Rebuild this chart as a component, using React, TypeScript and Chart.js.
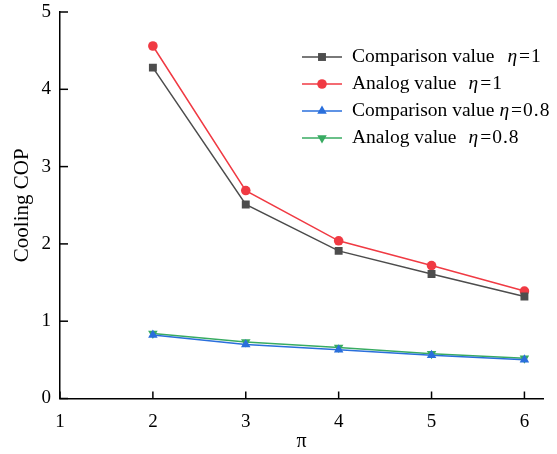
import React, { useEffect, useRef } from "react";
import { Chart, registerables } from "chart.js";

Chart.register(...registerables);

const piValues = [2, 3, 4, 5, 6];
const comparisonEta1 = [4.28, 2.51, 1.91, 1.61, 1.32];
const analogEta1 = [4.56, 2.69, 2.04, 1.72, 1.39];
const comparisonEta08 = [0.82, 0.70, 0.63, 0.56, 0.50];
const analogEta08 = [0.84, 0.73, 0.66, 0.58, 0.52];
const xTicks = [1, 2, 3, 4, 5, 6];
const yTicks = [0, 1, 2, 3, 4, 5];

const legendLabels: [string, string, string][] = [
  ["Comparison value", "η", "=1"],
  ["Analog value", "η", "=1"],
  ["Comparison value", "η", "=0.8"],
  ["Analog value", "η", "=0.8"],
];

const SERIF = "'Liberation Serif', 'Times New Roman', serif";

const innerTicks = {
  id: "innerTicks",
  afterDatasetsDraw(chart: any) {
    const { ctx, chartArea, scales } = chart;
    ctx.save();
    ctx.strokeStyle = "#000";
    ctx.lineWidth = 1.5;
    for (const v of yTicks) {
      const y = scales.y.getPixelForValue(v);
      ctx.beginPath();
      ctx.moveTo(chartArea.left, y);
      ctx.lineTo(chartArea.left + 8, y);
      ctx.stroke();
    }
    for (const v of xTicks) {
      const x = scales.x.getPixelForValue(v);
      ctx.beginPath();
      ctx.moveTo(x, chartArea.bottom);
      ctx.lineTo(x, chartArea.bottom - 7);
      ctx.stroke();
    }
    ctx.restore();
  },
};

const customLegend = {
  id: "customLegend",
  afterDraw(chart: any) {
    const { ctx } = chart;
    const x0 = 302;
    const x1 = 342;
    const tx = 352;
    const y0 = 57;
    const dy = 27;
    const gaps = [13, 12, 5, 12];
    ctx.save();
    chart.data.datasets.forEach((ds: any, i: number) => {
      const y = y0 + i * dy;
      ctx.strokeStyle = ds.borderColor;
      ctx.lineWidth = 1.5;
      ctx.beginPath();
      ctx.moveTo(x0, y);
      ctx.lineTo(x1, y);
      ctx.stroke();
      ctx.fillStyle = ds.backgroundColor;
      const r = ds.pointRadius;
      const cx = (x0 + x1) / 2;
      ctx.beginPath();
      if (ds.pointStyle === "rect") {
        const s = Math.SQRT1_2 * r;
        ctx.rect(cx - s, y - s, 2 * s, 2 * s);
      } else if (ds.pointStyle === "circle") {
        ctx.arc(cx, y, r, 0, Math.PI * 2);
      } else {
        const flip = ds.pointRotation === 180 ? -1 : 1;
        const h = r * 1.5;
        const w = r * Math.sqrt(3);
        ctx.moveTo(cx, y - flip * r);
        ctx.lineTo(cx - w / 2, y + flip * (h - r));
        ctx.lineTo(cx + w / 2, y + flip * (h - r));
        ctx.closePath();
      }
      ctx.fill();
      const [a, b, c] = legendLabels[i];
      ctx.fillStyle = "#000";
      ctx.textBaseline = "middle";
      ctx.textAlign = "left";
      let x = tx;
      ctx.font = `19.5px ${SERIF}`;
      ctx.fillText(a, x, y);
      x += ctx.measureText(a).width + gaps[i];
      ctx.font = `italic 19.5px ${SERIF}`;
      ctx.fillText(b, x, y);
      x += ctx.measureText(b).width + 2;
      ctx.font = `19.5px ${SERIF}`;
      (ctx as any).letterSpacing = "1px";
      ctx.fillText(c, x, y);
      (ctx as any).letterSpacing = "0px";
    });
    ctx.restore();
  },
};

export default function App() {
  const ref = useRef<HTMLCanvasElement>(null);
  useEffect(() => {
    if (!ref.current) return;
    const mk = (label: string, data: number[], color: string, style: string, radius: number, rot = 0) => ({
      label,
      data: piValues.map((x, i) => ({ x, y: data[i] })),
      borderColor: color,
      backgroundColor: color,
      pointBackgroundColor: color,
      pointBorderColor: color,
      pointStyle: style,
      pointRadius: radius,
      pointRotation: rot,
      borderWidth: 1.5,
      pointBorderWidth: 0,
      tension: 0,
    });
    const chart = new Chart(ref.current, {
      type: "line",
      data: {
        datasets: [
          mk("Comparison value η=1", comparisonEta1, "#4d4d4d", "rect", 5.6),
          mk("Analog value η=1", analogEta1, "#f03a43", "circle", 4.8),
          mk("Comparison value η=0.8", comparisonEta08, "#2a6fdc", "triangle", 5.5),
          mk("Analog value η=0.8", analogEta08, "#38ab62", "triangle", 5.5, 180),
        ] as any,
      },
      options: {
        animation: false,
        responsive: false,
        maintainAspectRatio: false,
        layout: { padding: { top: 12, right: 14, left: 0, bottom: 0 } },
        plugins: { legend: { display: false }, tooltip: { enabled: false } },
        scales: {
          x: {
            type: "linear",
            min: 1,
            max: 6.2,
            afterFit: (s: any) => { s.height = 55.5; s.paddingLeft = 0; s.paddingRight = 0; },
            afterBuildTicks: (s: any) => { s.ticks = xTicks.map((v) => ({ value: v })); },
            grid: { display: false, drawTicks: false },
            border: { display: true, color: "#000", width: 1.5 },
            ticks: { color: "#000", padding: 12, font: { family: SERIF, size: 19 } },
            title: { display: true, text: "π", color: "#000", padding: { bottom: 0 }, font: { family: SERIF, size: 20 } },
          },
          y: {
            type: "linear",
            min: 0,
            max: 5,
            afterFit: (s: any) => { s.width = 60; s.paddingTop = 0; s.paddingBottom = 0; },
            afterBuildTicks: (s: any) => { s.ticks = yTicks.map((v) => ({ value: v })); },
            grid: { display: false, drawTicks: false },
            border: { display: true, color: "#000", width: 1.5 },
            ticks: { color: "#000", padding: 9, font: { family: SERIF, size: 19 } },
            title: { display: true, text: "Cooling COP", color: "#000", padding: { top: 9.5 }, font: { family: SERIF, size: 21 } },
          },
        },
      },
      plugins: [innerTicks, customLegend],
    });
    return () => chart.destroy();
  }, []);
  return (
    <div style={{ position: "fixed", left: 0, top: 0, width: 557, height: 454, background: "#fff" }}>
      <canvas ref={ref} width={557} height={454} style={{ display: "block", width: 557, height: 454 }} />
    </div>
  );
}
